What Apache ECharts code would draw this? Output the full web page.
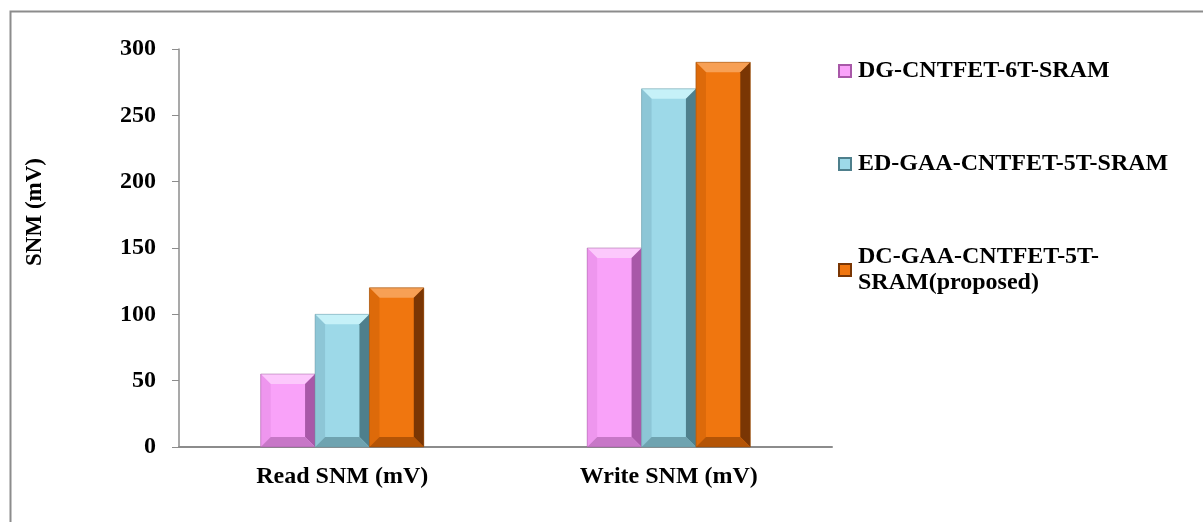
<!DOCTYPE html>
<html>
<head>
<meta charset="utf-8">
<script src="https://cdn.jsdelivr.net/npm/echarts@6/dist/echarts.min.js"></script>
<style>
html,body{margin:0;padding:0;background:#fff;}
#chart{width:1203px;height:522px;}
</style>
</head>
<body>
<div id="chart"></div>
<script>
const categories = ['Read SNM (mV)', 'Write SNM (mV)'];
const seriesNames = ['DG-CNTFET-6T-SRAM', 'ED-GAA-CNTFET-5T-SRAM', 'DC-GAA-CNTFET-5T-SRAM(proposed)'];
const dgValues = [55, 150];
const edValues = [100, 270];
const dcValues = [120, 290];
const yTicks = [0, 50, 100, 150, 200, 250, 300];
const yTitle = 'SNM (mV)';

const palettes = [
  {main:'#F9A2F9', top:'#FCC8FC', left:'#EE96EE', right:'#A858A8', bottom:'#C777C7', line:'#9a5a9a'},
  {main:'#9DD9E8', top:'#C6F1F8', left:'#8DC6D6', right:'#4E7F8C', bottom:'#6FA3B0', line:'#6a97a2'},
  {main:'#F0760F', top:'#F7A055', left:'#DD6A0A', right:'#7A3604', bottom:'#B45406', line:'#8a4a10'}
];
const font = '"Liberation Serif","Times New Roman",serif';

function makeRender(idx){
  const pal = palettes[idx];
  return function(params, api){
    const cat = api.value(0);
    const val = api.value(1);
    const base = api.coord([cat, 0]);
    const topP = api.coord([cat, val]);
    const band = api.size([1, 0])[0];
    const bw = band * 0.1665;
    const x0 = base[0] + (idx - 1.5) * bw;
    const x1 = x0 + bw;
    const y0 = topP[1];
    const y1 = base[1];
    const b = Math.min(10, bw / 4, (y1 - y0) / 3);
    return {
      type: 'group',
      children: [
        {type:'rect', shape:{x:x0, y:y0, width:bw, height:y1-y0}, style:{fill:pal.main}},
        {type:'polygon', shape:{points:[[x0,y0],[x1,y0],[x1-b,y0+b],[x0+b,y0+b]]}, style:{fill:pal.top}},
        {type:'polygon', shape:{points:[[x0,y0],[x0+b,y0+b],[x0+b,y1-b],[x0,y1]]}, style:{fill:pal.left}},
        {type:'polygon', shape:{points:[[x1,y0],[x1,y1],[x1-b,y1-b],[x1-b,y0+b]]}, style:{fill:pal.right}},
        {type:'polygon', shape:{points:[[x0,y1],[x0+b,y1-b],[x1-b,y1-b],[x1,y1]]}, style:{fill:pal.bottom}},
        {type:'rect', shape:{x:x0, y:y0, width:bw, height:y1-y0}, style:{fill:'none', stroke:pal.line, lineWidth:0.5}}
      ]
    };
  };
}

const allValues = [dgValues, edValues, dcValues];
const series = allValues.map((vals, i) => ({
  type: 'custom',
  name: seriesNames[i],
  renderItem: makeRender(i),
  itemStyle: {color: palettes[i].main, borderColor: palettes[i].right, borderWidth: 1},
  encode: {x: 0, y: 1},
  data: vals.map((v, k) => [k, v])
}));

const chart = echarts.init(document.getElementById('chart'), null, {renderer:'canvas'});
chart.setOption({
  animation: false,
  backgroundColor: '#fff',
  graphic: [{
    type: 'rect', left: 8, top: 9, shape: {x:0, y:0, width: 1194, height: 530},
    style: {fill: 'none', stroke: '#8c8c8c', lineWidth: 2}, silent: true, z: -1
  }, {
    type: 'text', x: 35, y: 212, rotation: Math.PI / 2,
    style: {text: yTitle, fill: '#000', font: 'bold 23px ' + font, align: 'center', verticalAlign: 'middle'}
  }],
  grid: {left: 179, right: 371, top: 49, bottom: 75},
  xAxis: {
    type: 'category',
    data: categories,
    axisLine: {lineStyle: {color: '#8c8c8c', width: 2}},
    axisTick: {show: false},
    axisLabel: {color: '#000', fontFamily: font, fontWeight: 'bold', fontSize: 24, margin: 18}
  },
  yAxis: {
    type: 'value',
    min: 0, max: 300, interval: 50,
    axisLine: {show: true, lineStyle: {color: '#8c8c8c', width: 1.5}},
    axisTick: {show: true, length: 7, lineStyle: {color: '#8c8c8c'}},
    splitLine: {show: false},
    axisLabel: {color: '#000', fontFamily: font, fontWeight: 'bold', fontSize: 24, margin: 23,
      formatter: v => yTicks.includes(v) ? String(v) : ''}
  },
  legend: {
    orient: 'vertical',
    left: 833,
    top: 53,
    itemGap: 67,
    itemWidth: 12,
    itemHeight: 12,
    icon: 'rect',
    textStyle: {color: '#000', fontFamily: font, fontWeight: 'bold', fontSize: 24, lineHeight: 26, padding: [0,0,0,2]},
    formatter: name => name.replace('5T-SRAM(proposed)', '5T-\nSRAM(proposed)'),
    data: seriesNames
  },
  series: series
});
</script>
</body>
</html>
